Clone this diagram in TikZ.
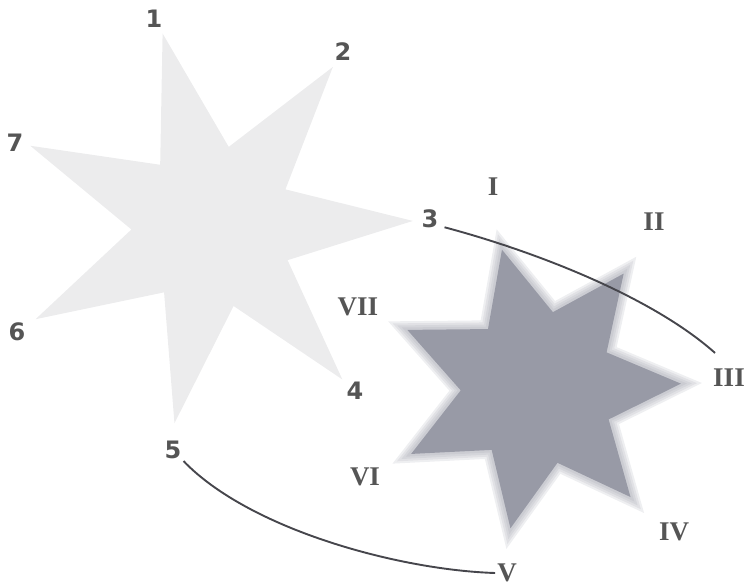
\documentclass[tikz,border=0pt]{standalone}
\usepackage{fontspec}
\setmainfont{Liberation Serif}
\newfontfamily\numfont{DejaVu Sans}
\usetikzlibrary{shapes.geometric}
\definecolor{starlight}{RGB}{236,236,237}
\definecolor{stardark}{RGB}{152,154,166}
\definecolor{labelgray}{RGB}{85,85,85}
\definecolor{linkgray}{RGB}{70,70,76}

\begin{document}
\begin{tikzpicture}[x=1pt, y=-1pt,
    num/.style={text=labelgray, font=\numfont\bfseries\fontsize{24}{24}\selectfont, inner sep=2pt},
    rom/.style={text=labelgray, font=\bfseries\fontsize{27}{27}\selectfont, inner sep=2pt},
    star7/.style={star, star points=7, shape border rotate=14.6, inner sep=0pt, draw=none},
    link/.style={linkgray, line width=1.9pt}]
    \useasboundingbox (0,0) rectangle (745,587);

    % Seven points, light
    \node[star7, star point ratio=2.45, minimum size=400pt, fill=starlight] (ls) at (213,227) {};
    \node[num] (n1) at (154,19) {1};
    \node[num] (n2) at (343,52) {2};
    \node[num] (n3) at (430,219) {3};
    \node[num] (n4) at (355,391) {4};
    \node[num] (n5) at (173,450) {5};
    \node[num] (n6) at (17,332) {6};
    \node[num] (n7) at (15,143) {7};

    % Seven points, dark (soft edge first)
    \foreach \s in {328,318,308,298}
        \node[star7, star point ratio=1.85, minimum size=\s pt, fill=stardark, fill opacity=0.16] at (538,388) {};
    \node[star7, star point ratio=1.85, minimum size=286pt, fill=stardark] (rs) at (538,388) {};
    \node[rom] (nI) at (493,187) {I};
    \node[rom] (nII) at (654,222) {II};
    \node[rom] (nIII) at (729,378) {III};
    \node[rom] (nIV) at (674,532) {IV};
    \node[rom] (nV) at (507,573) {V};
    \node[rom] (nVI) at (365,477) {VI};
    \node[rom] (nVII) at (358,307) {VII};

    \draw[link] ([xshift=4pt,yshift=3pt]n3.south east) .. controls (530,250) and (650,295) .. ([xshift=4pt,yshift=14pt]nIII.north west);
    \draw[link] (n5.south east) .. controls (250,530) and (400,570) .. (nV.west);
\end{tikzpicture}
\end{document}
